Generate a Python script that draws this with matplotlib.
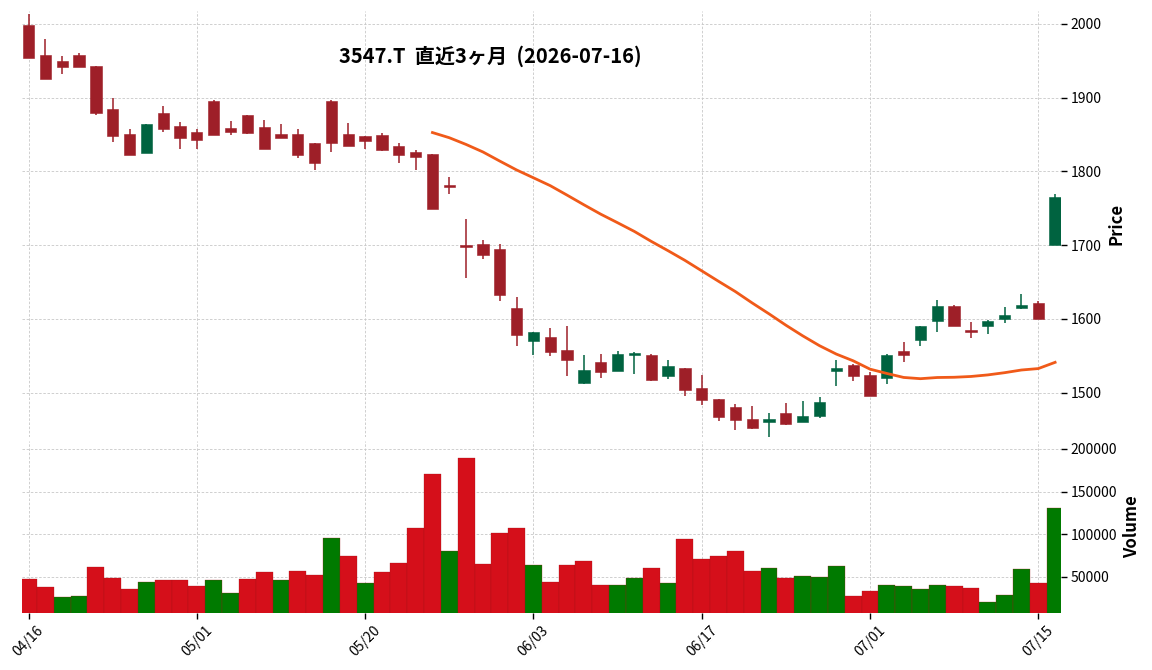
import numpy as np
import pandas as pd
import matplotlib
matplotlib.use('Agg')
from matplotlib import pyplot as plt

plt.rcParams['font.family'] = ['Noto Sans CJK JP', 'DejaVu Sans']

# trading days (2026)
dates = ['04/16', '04/17', '04/20', '04/21', '04/22', '04/23', '04/24', '04/27', '04/28', '04/30',
         '05/01', '05/07', '05/08', '05/11', '05/12', '05/13', '05/14', '05/15', '05/18', '05/19',
         '05/20', '05/21', '05/22', '05/25', '05/26', '05/27', '05/28', '05/29', '06/01', '06/02',
         '06/03', '06/04', '06/05', '06/08', '06/09', '06/10', '06/11', '06/12', '06/15', '06/16',
         '06/17', '06/18', '06/19', '06/22', '06/23', '06/24', '06/25', '06/26', '06/29', '06/30',
         '07/01', '07/02', '07/03', '07/06', '07/07', '07/08', '07/09', '07/10', '07/13', '07/14',
         '07/15', '07/16']

opens = [1999, 1958, 1950, 1958, 1943, 1885, 1851, 1825, 1879.5, 1862,
         1854, 1896, 1859, 1877, 1860.5, 1851, 1851, 1839, 1896, 1851,
         1848, 1850, 1835, 1826, 1824, 1782, 1700.5, 1702, 1695.5, 1615.5,
         1570, 1575, 1558, 1512.6, 1541.5, 1529.4, 1551, 1551, 1522, 1533,
         1506, 1491, 1480, 1465, 1460, 1472, 1460, 1469, 1529, 1538,
         1523.5, 1519.4, 1556, 1571, 1597, 1618, 1584.4, 1590, 1600, 1615.5,
         1622, 1700]
highs = [2013, 1979, 1957, 1961, 1943, 1899, 1857, 1865, 1888.5, 1867,
         1857, 1897, 1869, 1877, 1870, 1865, 1858, 1839, 1897, 1866,
         1848, 1852, 1838, 1829, 1824, 1792.5, 1735, 1707.6, 1702, 1630,
         1582, 1588, 1591, 1551.5, 1553, 1556, 1555.5, 1553, 1545, 1533,
         1523.5, 1491, 1485, 1482.4, 1473, 1486.5, 1489, 1494, 1544, 1538.5,
         1528, 1553, 1569, 1591, 1626, 1619, 1596, 1598.4, 1616.4, 1634,
         1624, 1769.4]
lows = [1954, 1925, 1932, 1942, 1876, 1840, 1822, 1825, 1853, 1830,
        1830, 1849, 1849, 1851, 1830, 1845, 1818, 1801.5, 1827, 1834,
        1830, 1828, 1811, 1802, 1749, 1769.5, 1655.6, 1681, 1624, 1563,
        1550.5, 1549.6, 1522, 1512, 1520, 1529, 1526, 1516, 1518, 1495.5,
        1484, 1461, 1449.5, 1451, 1440, 1456, 1460, 1466, 1509, 1516,
        1495.5, 1512, 1541, 1563, 1583, 1590, 1574.5, 1580, 1594, 1613,
        1600, 1700]
closes = [1954, 1925.5, 1941, 1942, 1879, 1847.5, 1822, 1865, 1858, 1846,
          1842, 1850, 1853, 1852.5, 1831, 1845, 1822, 1811, 1838, 1834,
          1841, 1828.5, 1823, 1819, 1749.5, 1778.5, 1697, 1687, 1633, 1578,
          1582, 1555, 1544, 1530.6, 1528, 1552, 1554.5, 1517, 1535.6, 1504,
          1490, 1467, 1463, 1451.7, 1465, 1457, 1468, 1488, 1534, 1522.5,
          1496, 1550.5, 1551.5, 1591, 1618, 1590, 1582, 1597, 1606, 1618.7,
          1600.6, 1766]
volumes = [46900, 37500, 25800, 27000, 60900, 48000, 35200, 43400, 45700, 45700,
           38700, 45700, 30500, 46900, 55100, 45700, 56250, 51600, 94900, 73800,
           42200, 55100, 65600, 106600, 171100, 79700, 189800, 64500, 100800, 106600,
           63300, 43400, 63300, 68000, 39840, 39840, 48050, 59770, 42190, 93750,
           70310, 73830, 79690, 56250, 59770, 48050, 50390, 49600, 62100, 26950,
           32800, 39840, 38670, 35160, 39840, 38670, 36330, 19920, 28125, 58600,
           42190, 131250]

df = pd.DataFrame({'Open': opens, 'High': highs, 'Low': lows, 'Close': closes, 'Volume': volumes})
df['MA25'] = df['Close'].rolling(25).mean()
x = np.arange(len(df))

up = df['Close'] >= df['Open']
candle_col = np.where(up, '#006340', '#9e1f28')
prev_close = df['Close'].shift(1).fillna(df['Open'])
vol_col = np.where(df['Close'] >= prev_close, '#007a00', '#d50f1a')

fig = plt.figure(figsize=(11.52, 6.7), dpi=100)
ax1 = fig.add_axes([0.0191, 0.3478, 0.9019, 0.6358])
ax2 = fig.add_axes([0.0191, 0.0855, 0.9019, 0.2563], sharex=ax1)

# candles
ax1.vlines(x, df['Low'], df['High'], colors=candle_col, linewidth=1.1, zorder=2)
body_h = (df['Close'] - df['Open']).abs().clip(lower=1.0)
body_b = np.minimum(df['Open'], df['Close'])
ax1.bar(x, body_h, bottom=body_b, width=0.67, color=candle_col,
        edgecolor=candle_col, linewidth=0.4, zorder=3)
ax1.plot(x, df['MA25'], color='#f05a19', linewidth=2, zorder=4)

# volume
ax2.bar(x, df['Volume'], width=1.0, color=vol_col, edgecolor='#a01018', linewidth=0.2, zorder=2)

for ax in (ax1, ax2):
    ax.grid(True, color='#c8c8c8', linestyle=(0, (3, 2)), linewidth=0.6)
    ax.set_axisbelow(True)
    for s in ax.spines.values():
        s.set_visible(False)
    ax.yaxis.tick_right()
    ax.yaxis.set_label_position('right')
    ax.tick_params(axis='y', length=4, width=1, labelsize=10, pad=3)

ax1.set_xlim(-0.39, 61.35)
ax1.set_ylim(1440, 2017.6)
ax1.set_yticks(np.arange(1500, 2001, 100))
ax1.set_ylabel('Price', fontsize=12, fontweight='bold')
ax1.tick_params(axis='x', bottom=False, labelbottom=False)

ax2.set_ylim(7650, 209400)
ax2.set_yticks([50000, 100000, 150000, 200000])
ax2.set_yticklabels(['50000', '100000', '150000', '200000'])
ax2.set_ylabel('Volume', fontsize=12, fontweight='bold')
ax2.set_xticks(x[::10])
ax2.set_xticklabels(dates[::10], rotation=45, ha='center', fontsize=10)
ax2.tick_params(axis='x', length=4, width=1)

fig.text(0.426, 0.916, '3547.T  直近3ヶ月  (2026-07-16)', fontsize=14.5,
         fontweight='bold', ha='center', va='center')

fig.savefig('out.png', dpi=100)
